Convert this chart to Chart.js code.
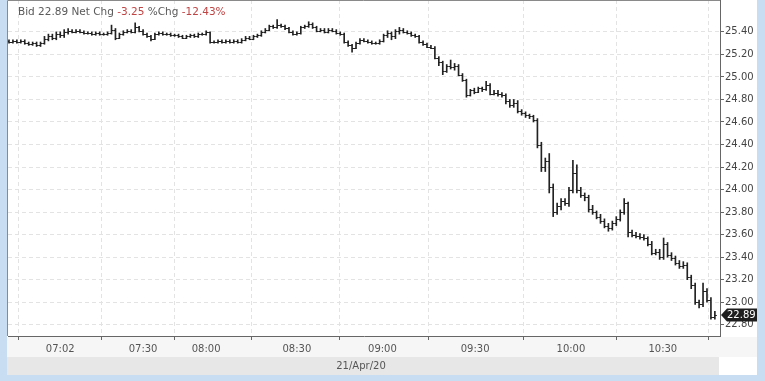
<!DOCTYPE html>
<html>
<head>
<meta charset="utf-8">
<script src="https://cdn.jsdelivr.net/npm/chart.js@4"></script>
<style>
  html, body { margin: 0; padding: 0; background: #c9ddf2; }
  #wrap { position: relative; width: 765px; height: 381px; overflow: hidden; font-family: "DejaVu Sans", sans-serif; }
  #panel { position: absolute; left: 7px; top: 0; width: 750px; height: 375px; background: #fff; }
  #strip { position: absolute; left: 7px; top: 337px; width: 750px; height: 20px; background: #f6f6f6; }
  #band { position: absolute; left: 7px; top: 357px; width: 712px; height: 18px; background: #e7e7e7; }
  #title { position: absolute; left: 18px; top: 5px; font-size: 10.5px; color: #5a5a5a; white-space: pre; }
  #title .neg { color: #c04444; }
  #date { position: absolute; left: 330px; top: 360px; width: 62px; text-align: center; font-size: 10px; color: #555; }
  canvas { position: absolute; left: 0; top: 0; }
</style>
</head>
<body>
<div id="wrap">
  <div id="panel"></div>
  <div id="strip"></div>
  <div id="band"></div>
  <canvas id="bidChart" width="765" height="381"></canvas>
  <div id="title">Bid 22.89 Net Chg <span class="neg">-3.25</span> %Chg <span class="neg">-12.43%</span></div>
  <div id="date">21/Apr/20</div>
</div>
<script>
// one bar per row of the source chart
const opens = [
  25.32, 25.31, 25.32, 25.31, 25.32, 25.30, 25.29, 25.30, 25.28, 25.30,
  25.34, 25.36, 25.35, 25.38, 25.37, 25.40, 25.41, 25.40, 25.41, 25.40,
  25.39, 25.39, 25.38, 25.39, 25.38, 25.38, 25.39, 25.42, 25.35, 25.38,
  25.40, 25.41, 25.40, 25.44, 25.41, 25.38, 25.36, 25.34, 25.38, 25.39,
  25.38, 25.38, 25.37, 25.37, 25.36, 25.35, 25.36, 25.37, 25.36, 25.38,
  25.38, 25.40, 25.31, 25.31, 25.32, 25.31, 25.32, 25.31, 25.32, 25.31,
  25.33, 25.35, 25.34, 25.36, 25.37, 25.40, 25.42, 25.45, 25.44, 25.46,
  25.45, 25.43, 25.40, 25.38, 25.39, 25.44, 25.45, 25.47, 25.44, 25.41,
  25.42, 25.40, 25.42, 25.41, 25.39, 25.38, 25.31, 25.28, 25.26, 25.30,
  25.33, 25.32, 25.31, 25.30, 25.30, 25.32, 25.37, 25.39, 25.36, 25.41,
  25.42, 25.40, 25.39, 25.37, 25.36, 25.31, 25.29, 25.27, 25.26, 25.17,
  25.13, 25.05, 25.10, 25.09, 25.10, 25.02, 24.97, 24.84, 24.88, 24.87,
  24.90, 24.89, 24.93, 24.85, 24.86, 24.85, 24.84, 24.79, 24.75, 24.77,
  24.70, 24.68, 24.66, 24.65, 24.62, 24.40, 24.20, 24.25, 24.02, 23.80,
  23.85, 23.90, 23.88, 24.00, 24.15, 24.00, 23.95, 23.93, 23.83, 23.80,
  23.76, 23.72, 23.68, 23.66, 23.70, 23.74, 23.80, 23.88, 23.62, 23.60,
  23.59, 23.58, 23.57, 23.52, 23.44, 23.45, 23.40, 23.52, 23.42, 23.39,
  23.35, 23.32, 23.33, 23.22, 23.15, 23.00, 22.98, 23.10, 23.02, 22.87
];
const highs = [
  25.33, 25.33, 25.33, 25.33, 25.33, 25.31, 25.31, 25.31, 25.31, 25.36,
  25.38, 25.38, 25.40, 25.40, 25.42, 25.43, 25.42, 25.42, 25.42, 25.41,
  25.40, 25.40, 25.40, 25.40, 25.39, 25.40, 25.46, 25.43, 25.39, 25.41,
  25.42, 25.42, 25.48, 25.45, 25.42, 25.39, 25.37, 25.39, 25.40, 25.40,
  25.39, 25.39, 25.38, 25.38, 25.37, 25.37, 25.38, 25.38, 25.39, 25.39,
  25.41, 25.40, 25.32, 25.33, 25.33, 25.33, 25.33, 25.33, 25.33, 25.34,
  25.36, 25.36, 25.37, 25.38, 25.41, 25.43, 25.46, 25.46, 25.51, 25.47,
  25.46, 25.44, 25.41, 25.40, 25.45, 25.46, 25.49, 25.48, 25.45, 25.43,
  25.43, 25.43, 25.43, 25.42, 25.40, 25.39, 25.32, 25.29, 25.31, 25.34,
  25.34, 25.33, 25.32, 25.31, 25.33, 25.38, 25.41, 25.40, 25.42, 25.44,
  25.43, 25.41, 25.40, 25.38, 25.37, 25.32, 25.30, 25.28, 25.27, 25.18,
  25.14, 25.11, 25.15, 25.12, 25.11, 25.03, 24.98, 24.89, 24.90, 24.91,
  24.91, 24.96, 24.94, 24.88, 24.88, 24.86, 24.85, 24.80, 24.80, 24.79,
  24.71, 24.69, 24.67, 24.66, 24.63, 24.42, 24.28, 24.32, 24.05, 23.88,
  23.92, 23.92, 24.02, 24.26, 24.22, 24.02, 23.97, 23.95, 23.86, 23.81,
  23.78, 23.74, 23.70, 23.72, 23.76, 23.82, 23.92, 23.89, 23.64, 23.62,
  23.61, 23.60, 23.58, 23.54, 23.47, 23.47, 23.57, 23.53, 23.44, 23.41,
  23.37, 23.36, 23.35, 23.24, 23.17, 23.02, 23.17, 23.12, 23.04, 22.92
];
const lows = [
  25.30, 25.30, 25.30, 25.30, 25.29, 25.28, 25.28, 25.27, 25.27, 25.29,
  25.32, 25.33, 25.33, 25.35, 25.35, 25.38, 25.39, 25.39, 25.39, 25.38,
  25.38, 25.37, 25.37, 25.37, 25.37, 25.37, 25.38, 25.33, 25.34, 25.37,
  25.39, 25.39, 25.39, 25.40, 25.37, 25.35, 25.32, 25.33, 25.37, 25.37,
  25.37, 25.36, 25.36, 25.35, 25.34, 25.34, 25.35, 25.35, 25.35, 25.37,
  25.37, 25.30, 25.30, 25.30, 25.30, 25.30, 25.30, 25.30, 25.30, 25.30,
  25.32, 25.33, 25.33, 25.35, 25.36, 25.39, 25.41, 25.43, 25.43, 25.44,
  25.42, 25.39, 25.37, 25.37, 25.38, 25.43, 25.44, 25.43, 25.40, 25.40,
  25.39, 25.39, 25.40, 25.38, 25.37, 25.30, 25.27, 25.22, 25.25, 25.29,
  25.31, 25.30, 25.29, 25.29, 25.29, 25.31, 25.35, 25.33, 25.34, 25.38,
  25.39, 25.38, 25.36, 25.35, 25.30, 25.28, 25.26, 25.25, 25.16, 25.10,
  25.02, 25.04, 25.07, 25.06, 25.01, 24.96, 24.82, 24.83, 24.85, 24.86,
  24.87, 24.88, 24.84, 24.84, 24.83, 24.82, 24.76, 24.73, 24.73, 24.68,
  24.66, 24.64, 24.63, 24.60, 24.37, 24.16, 24.16, 23.97, 23.76, 23.78,
  23.82, 23.86, 23.85, 23.97, 23.97, 23.93, 23.90, 23.80, 23.78, 23.74,
  23.70, 23.66, 23.63, 23.64, 23.68, 23.72, 23.78, 23.58, 23.58, 23.57,
  23.56, 23.55, 23.50, 23.42, 23.42, 23.38, 23.38, 23.40, 23.37, 23.33,
  23.30, 23.30, 23.20, 23.12, 22.98, 22.95, 22.96, 23.00, 22.85, 22.85
];
const closes = [
  25.31, 25.32, 25.31, 25.32, 25.30, 25.29, 25.30, 25.28, 25.30, 25.34,
  25.36, 25.35, 25.38, 25.37, 25.40, 25.41, 25.40, 25.41, 25.40, 25.39,
  25.39, 25.38, 25.39, 25.38, 25.38, 25.39, 25.42, 25.35, 25.38, 25.40,
  25.41, 25.40, 25.44, 25.41, 25.38, 25.36, 25.34, 25.38, 25.39, 25.38,
  25.38, 25.37, 25.37, 25.36, 25.35, 25.36, 25.37, 25.36, 25.38, 25.38,
  25.40, 25.31, 25.31, 25.32, 25.31, 25.32, 25.31, 25.32, 25.31, 25.33,
  25.35, 25.34, 25.36, 25.37, 25.40, 25.42, 25.45, 25.44, 25.46, 25.45,
  25.43, 25.40, 25.38, 25.39, 25.44, 25.45, 25.47, 25.44, 25.41, 25.42,
  25.40, 25.42, 25.41, 25.39, 25.38, 25.31, 25.28, 25.26, 25.30, 25.33,
  25.32, 25.31, 25.30, 25.30, 25.32, 25.37, 25.39, 25.36, 25.41, 25.42,
  25.40, 25.39, 25.37, 25.36, 25.31, 25.29, 25.27, 25.26, 25.17, 25.13,
  25.05, 25.10, 25.09, 25.10, 25.02, 24.97, 24.84, 24.88, 24.87, 24.90,
  24.89, 24.93, 24.85, 24.86, 24.85, 24.84, 24.79, 24.75, 24.77, 24.70,
  24.68, 24.66, 24.65, 24.62, 24.40, 24.20, 24.25, 24.02, 23.80, 23.85,
  23.90, 23.88, 24.00, 24.15, 24.00, 23.95, 23.93, 23.83, 23.80, 23.76,
  23.72, 23.68, 23.66, 23.70, 23.74, 23.80, 23.88, 23.62, 23.60, 23.59,
  23.58, 23.57, 23.52, 23.44, 23.45, 23.40, 23.52, 23.42, 23.39, 23.35,
  23.32, 23.33, 23.22, 23.15, 23.00, 22.98, 23.10, 23.02, 22.87, 22.89
];

// time labels sit at bar positions (gaps in trading make them uneven)
const timeTickPos = [13, 34, 50, 73, 94.7, 118.2, 142.5, 165.8];
const timeTickLabels = ["07:02", "07:30", "08:00", "08:30", "09:00", "09:30", "10:00", "10:30"];
const priceTicks = [22.8, 23.0, 23.2, 23.4, 23.6, 23.8, 24.0, 24.2, 24.4, 24.6, 24.8, 25.0, 25.2, 25.4];
const lastPrice = 22.89;

const BAR_COLOR = "#222";
const GRID_COLOR = "#e3e3e3";

// open/close nubs on each high-low bar
const ohlcTicks = {
  id: "ohlcTicks",
  afterDatasetsDraw(chart) {
    const ctx = chart.ctx;
    const xs = chart.scales.x;
    const ys = chart.scales.y;
    ctx.save();
    ctx.strokeStyle = BAR_COLOR;
    ctx.lineWidth = 1;
    ctx.beginPath();
    for (let i = 0; i < closes.length; i++) {
      const x = xs.getPixelForValue(i);
      const yo = Math.round(ys.getPixelForValue(opens[i])) + 0.5;
      const yc = Math.round(ys.getPixelForValue(closes[i])) + 0.5;
      ctx.moveTo(x - 2, yo);
      ctx.lineTo(x, yo);
      ctx.moveTo(x, yc);
      ctx.lineTo(x + 2, yc);
    }
    ctx.stroke();
    ctx.restore();
  },
};

// frame + last price tag on the right axis
const frameAndTag = {
  id: "frameAndTag",
  afterDraw(chart) {
    const ctx = chart.ctx;
    const a = chart.chartArea;
    const ys = chart.scales.y;
    ctx.save();
    ctx.strokeStyle = "#8a8a8a";
    ctx.lineWidth = 1;
    ctx.beginPath();
    ctx.moveTo(a.left - 0.5, a.bottom);
    ctx.lineTo(a.left - 0.5, a.top + 0.5);
    ctx.lineTo(a.right, a.top + 0.5);
    ctx.stroke();

    const y = Math.round(ys.getPixelForValue(lastPrice));
    const x0 = a.right + 1;
    ctx.fillStyle = "#1e1e1e";
    ctx.beginPath();
    ctx.moveTo(x0, y);
    ctx.lineTo(x0 + 6, y - 6.5);
    ctx.lineTo(x0 + 36, y - 6.5);
    ctx.lineTo(x0 + 36, y + 6.5);
    ctx.lineTo(x0 + 6, y + 6.5);
    ctx.closePath();
    ctx.fill();
    ctx.fillStyle = "#fff";
    ctx.font = "10px 'DejaVu Sans'";
    ctx.textBaseline = "middle";
    ctx.fillText(lastPrice.toFixed(2), x0 + 6, y + 0.5);
    ctx.restore();
  },
};

new Chart(document.getElementById("bidChart"), {
  type: "bar",
  data: {
    datasets: [
      {
        label: "Bid",
        data: lows.map((lo, i) => ({ x: i, y: [lo, highs[i]] })),
        backgroundColor: BAR_COLOR,
        borderWidth: 0,
        barThickness: 1,
        grouped: false,
      },
    ],
  },
  options: {
    responsive: false,
    animation: false,
    events: [],
    layout: { padding: { left: 8, right: 8, top: 0, bottom: 0 } },
    scales: {
      x: {
        type: "linear",
        position: "bottom",
        offset: false,
        bounds: "data",
        min: -0.25,
        max: 180.3,
        afterBuildTicks(axis) {
          axis.ticks = timeTickPos.map((v) => ({ value: v }));
        },
        afterFit(axis) {
          axis.height = 45;
          axis.paddingLeft = 0;
          axis.paddingRight = 0;
        },
        ticks: {
          autoSkip: false,
          maxRotation: 0,
          padding: 3,
          color: "#555",
          font: { family: "DejaVu Sans", size: 10 },
          callback: (v) => timeTickLabels[timeTickPos.indexOf(v)],
        },
        grid: {
          color: GRID_COLOR,
          tickColor: "#666",
          tickLength: 4,
          tickBorderDash: [],
        },
        border: { display: true, color: "#666", width: 1, dash: [4, 3] },
      },
      y: {
        type: "linear",
        position: "right",
        bounds: "data",
        min: 22.70,
        max: 25.683,
        afterBuildTicks(axis) {
          axis.ticks = priceTicks.map((v) => ({ value: v }));
        },
        afterFit(axis) {
          axis.width = 37;
          axis.paddingTop = 0;
          axis.paddingBottom = 0;
        },
        ticks: {
          padding: 1,
          color: "#444",
          font: { family: "DejaVu Sans", size: 10 },
          callback: (v) => v.toFixed(2),
        },
        grid: {
          color: GRID_COLOR,
          tickColor: "#666",
          tickLength: 4,
          tickBorderDash: [],
        },
        border: { display: true, color: "#666", width: 1, dash: [4, 3] },
      },
    },
    plugins: {
      legend: { display: false },
      tooltip: { enabled: false },
      title: { display: false },
    },
  },
  plugins: [ohlcTicks, frameAndTag],
});
</script>
</body>
</html>
